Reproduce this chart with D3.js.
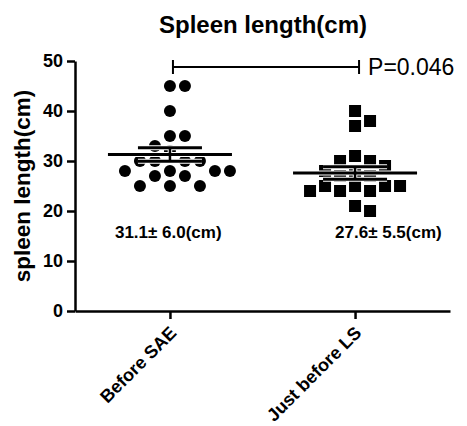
<!DOCTYPE html>
<html>
<head>
<meta charset="utf-8">
<script src="https://cdn.jsdelivr.net/npm/d3@7"></script>
<style>
body { margin: 0; background: #fff; }
text { font-family: Arial, "Liberation Sans", sans-serif; fill: #000; }
</style>
</head>
<body>
<script>
var groups = ["Before SAE", "Just before LS"];
var beforeSAE = [45, 45, 40, 35, 35, 33, 32, 30, 30, 30, 30, 28, 28, 28, 28, 27, 27, 25, 25, 25];
var justBeforeLS = [40, 38, 37, 31, 30, 30, 29, 28, 28, 27, 27, 25, 25, 25, 25, 24, 24, 24, 21, 20];
var means = [31.3, 27.6];
var sems = [1.35, 1.25];
var summaries = ["31.1\u00b1 6.0(cm)", "27.6\u00b1 5.5(cm)"];
var yTicks = [0, 10, 20, 30, 40, 50];
var pLabel = "P=0.046";

var width = 467;
var height = 426;

var svg = d3.select("body").append("svg")
    .attr("width", width)
    .attr("height", height);

var x = d3.scalePoint()
    .domain(groups)
    .range([75, 450])
    .padding(0.513);

var y = d3.scaleLinear()
    .domain([0, 50])
    .range([311, 61]);

// simple beeswarm so equal values sit side by side
var step = 15, minDist = 14;
function swarm(values, cx) {
    var placed = [];
    values.forEach(function(v) {
        var py = y(v);
        for (var k = 0; k < 60; k++) {
            var off = k === 0 ? 0 : Math.ceil(k / 2) * (k % 2 ? 1 : -1) * step / 2;
            var px = cx + off;
            var hit = placed.some(function(p) {
                return Math.hypot(p.x - px, p.y - py) < minDist;
            });
            if (!hit) { placed.push({x: px, y: py, v: v}); break; }
        }
    });
    return placed;
}

var pts1 = swarm(beforeSAE, x(groups[0]));
var pts2 = swarm(justBeforeLS, x(groups[1]));

svg.append("g").selectAll("circle")
    .data(pts1)
    .enter().append("circle")
        .attr("cx", function(d) { return d.x; })
        .attr("cy", function(d) { return d.y; })
        .attr("r", 6)
        .attr("fill", "#000");

svg.append("g").selectAll("rect")
    .data(pts2)
    .enter().append("rect")
        .attr("x", function(d) { return d.x - 6; })
        .attr("y", function(d) { return d.y - 6; })
        .attr("width", 12)
        .attr("height", 12)
        .attr("fill", "#000");

// mean and SEM bars, thin white halo underneath like Prism
var stats = groups.map(function(g, i) {
    return {cx: x(g), mean: means[i], sem: sems[i]};
});
function drawBars(color, extra) {
    var g = svg.append("g")
        .attr("stroke", color)
        .attr("stroke-linecap", "butt");
    stats.forEach(function(s) {
        g.append("line")
            .attr("x1", s.cx - 62).attr("x2", s.cx + 62)
            .attr("y1", y(s.mean)).attr("y2", y(s.mean))
            .attr("stroke-width", 3 + extra);
        [s.mean + s.sem, s.mean - s.sem].forEach(function(v) {
            g.append("line")
                .attr("x1", s.cx - 32).attr("x2", s.cx + 32)
                .attr("y1", y(v)).attr("y2", y(v))
                .attr("stroke-width", 3 + extra);
        });
        g.append("line")
            .attr("x1", s.cx).attr("x2", s.cx)
            .attr("y1", y(s.mean + s.sem)).attr("y2", y(s.mean - s.sem))
            .attr("stroke-width", 2.5 + extra);
    });
}
drawBars("#fff", 2);
drawBars("#000", 0);

// axes
var yAxis = svg.append("g")
    .attr("transform", "translate(75,0)")
    .call(d3.axisLeft(y).tickValues(yTicks).tickSize(8).tickSizeOuter(0).tickPadding(4));
yAxis.selectAll("text")
    .style("font-size", "18px")
    .style("font-weight", "bold");

var xAxis = svg.append("g")
    .attr("transform", "translate(0,311)")
    .call(d3.axisBottom(x).tickSize(8).tickSizeOuter(0));
xAxis.selectAll("text")
    .style("font-size", "18px")
    .style("font-weight", "bold")
    .attr("text-anchor", "end")
    .attr("x", 0).attr("y", 0).attr("dy", 0)
    .attr("transform", "translate(7,23) rotate(-45)");

svg.selectAll(".domain, .tick line")
    .attr("stroke", "#000")
    .attr("stroke-width", 2.5);

// titles
svg.append("text")
    .text("Spleen length(cm)")
    .attr("text-anchor", "middle")
    .attr("x", 263)
    .attr("y", 33)
    .style("font-size", "24px")
    .style("font-weight", "bold");

svg.append("text")
    .text("spleen length(cm)")
    .attr("text-anchor", "middle")
    .attr("transform", "translate(30," + (y(25)) + ") rotate(-90)")
    .style("font-size", "22.5px")
    .style("font-weight", "bold");

// summary labels
var sumOffset = [-55, -20];
svg.append("g").selectAll("text")
    .data(summaries)
    .enter().append("text")
        .text(function(d) { return d; })
        .attr("x", function(d, i) { return x(groups[i]) + sumOffset[i]; })
        .attr("y", 238)
        .style("font-size", "17px")
        .style("font-weight", "bold");

// significance bracket
var bx1 = x(groups[0]) + 3, bx2 = x(groups[1]) + 4, by = 67;
var br = svg.append("g").attr("stroke", "#000").attr("stroke-width", 2);
br.append("line").attr("x1", bx1).attr("x2", bx2).attr("y1", by).attr("y2", by);
br.append("line").attr("x1", bx1).attr("x2", bx1).attr("y1", by - 7).attr("y2", by + 7);
br.append("line").attr("x1", bx2).attr("x2", bx2).attr("y1", by - 7).attr("y2", by + 7);

svg.append("text")
    .text(pLabel)
    .attr("x", bx2 + 9)
    .attr("y", 75)
    .style("font-size", "23px");
</script>
</body>
</html>
